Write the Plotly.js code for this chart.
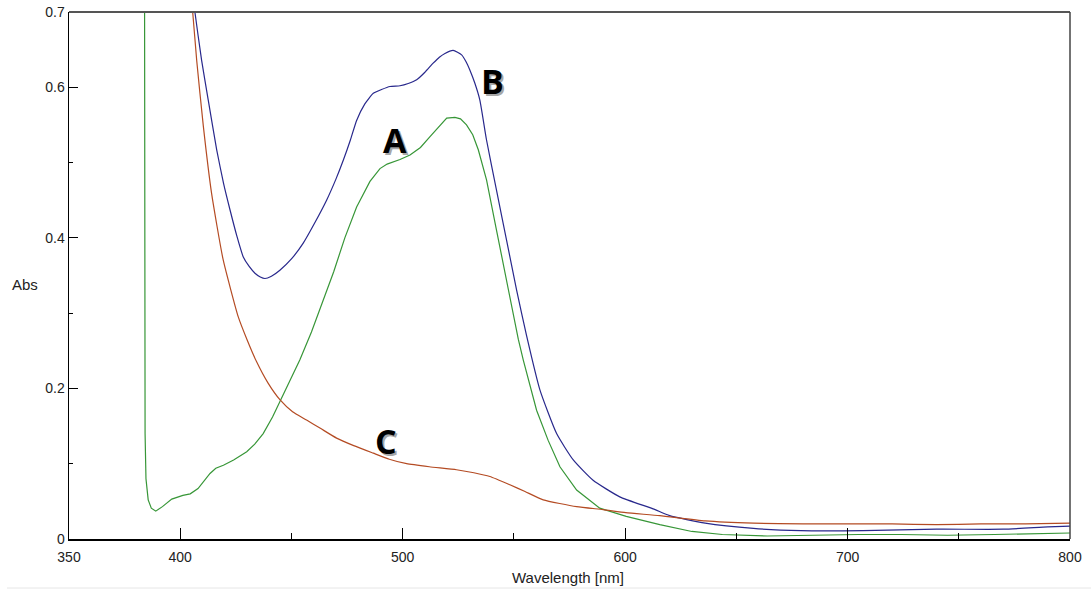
<!DOCTYPE html>
<html>
<head>
<meta charset="utf-8">
<script src="https://cdn.plot.ly/plotly-3.0.1.min.js"></script>
<style>html,body{margin:0;padding:0;background:#fff;}#chart{width:1091px;height:590px;}</style>
</head>
<body>
<div id="chart"></div>
<script>
// Wavelength (nm) and absorbance values
const wlA = [383.9, 384.2, 384.6, 385.6, 387, 389, 392, 396.2, 401.2, 404.5, 408, 411, 413.4, 416, 419.4, 424, 429.9, 433.5, 437.3, 441.5, 445.6, 449.5, 453.8, 459, 464.3, 469, 474, 479.3, 485.3, 489.8, 493, 498.8, 503.3, 508, 512.2, 516, 519.8, 523.5, 526, 528.7, 531.5, 534, 537.7, 542.2, 546.7, 549.5, 552, 554.2, 557, 560.2, 565.4, 570.7, 578.2, 588.6, 600.5, 615.6, 630, 643.7, 663.9, 680, 705, 724, 745, 766, 785, 800];
const absA = [0.9, 0.14, 0.08, 0.052, 0.041, 0.037, 0.043, 0.053, 0.058, 0.060, 0.067, 0.078, 0.087, 0.094, 0.098, 0.105, 0.116, 0.126, 0.140, 0.162, 0.187, 0.212, 0.238, 0.275, 0.317, 0.355, 0.400, 0.441, 0.475, 0.492, 0.498, 0.504, 0.510, 0.520, 0.534, 0.547, 0.559, 0.560, 0.558, 0.550, 0.537, 0.517, 0.477, 0.410, 0.344, 0.300, 0.265, 0.238, 0.205, 0.171, 0.131, 0.096, 0.065, 0.041, 0.030, 0.019, 0.010, 0.006, 0.004, 0.005, 0.006, 0.006, 0.005, 0.006, 0.007, 0.008];

const wlB = [404, 406.6, 409.6, 412.6, 416.4, 419.5, 422.4, 425.5, 428.3, 431, 433.6, 436, 438.1, 441, 444.8, 450, 455.3, 460.5, 465.8, 470, 473.3, 476.5, 479.3, 483, 486.8, 490.5, 494.3, 498.8, 502.5, 506.3, 510, 513.7, 516.5, 519, 522.7, 526.5, 528.5, 530.2, 532.5, 534.7, 537.7, 542.2, 546.7, 551.2, 555.7, 561.7, 569.2, 576.7, 585.6, 597.6, 612.6, 620, 636, 657.7, 679, 707, 740, 770, 790, 800];
const absB = [0.76, 0.70, 0.636, 0.583, 0.517, 0.472, 0.437, 0.402, 0.375, 0.362, 0.353, 0.348, 0.346, 0.349, 0.357, 0.372, 0.393, 0.420, 0.450, 0.478, 0.503, 0.530, 0.556, 0.578, 0.592, 0.597, 0.601, 0.602, 0.605, 0.610, 0.620, 0.632, 0.640, 0.645, 0.649, 0.643, 0.634, 0.623, 0.605, 0.583, 0.530, 0.463, 0.397, 0.331, 0.270, 0.198, 0.140, 0.105, 0.078, 0.056, 0.040, 0.031, 0.021, 0.014, 0.011, 0.011, 0.013, 0.013, 0.016, 0.017];

const wlC = [403.5, 405.6, 407.4, 410.4, 414.1, 419.3, 426.1, 430, 434.4, 439.5, 444.8, 450.5, 456.8, 463, 470.3, 478, 486.8, 494, 501.8, 512, 524.2, 532, 539.2, 548.2, 555, 563.2, 578.2, 590.1, 600.3, 615.6, 636, 657.7, 680, 720, 740, 760, 780, 800];
const absC = [0.76, 0.70, 0.636, 0.548, 0.459, 0.371, 0.295, 0.265, 0.235, 0.207, 0.185, 0.169, 0.158, 0.147, 0.134, 0.124, 0.114, 0.106, 0.100, 0.096, 0.092, 0.088, 0.083, 0.072, 0.063, 0.052, 0.043, 0.039, 0.035, 0.031, 0.024, 0.021, 0.020, 0.020, 0.019, 0.020, 0.020, 0.021];

const xTickVals = [350, 400, 500, 600, 700, 800];
const xTickText = ['350', '400', '500', '600', '700', '800'];
const yTickVals = [0, 0.2, 0.4, 0.6, 0.7];
const yTickText = ['0', '0.2', '0.4', '0.6', '0.7'];

const labels = [
  {text: 'A', x: 496.5, y: 0.530},
  {text: 'B', x: 540.6, y: 0.608},
  {text: 'C', x: 492.5, y: 0.130}
];

const traces = [
  {x: wlA, y: absA, mode: 'lines', line: {color: 'rgb(55,150,55)', width: 1.2}, hoverinfo: 'skip'},
  {x: wlB, y: absB, mode: 'lines', line: {color: 'rgb(40,40,140)', width: 1.2, shape: 'spline', smoothing: 0.5}, hoverinfo: 'skip'},
  {x: wlC, y: absC, mode: 'lines', line: {color: 'rgb(180,75,35)', width: 1.2, shape: 'spline', smoothing: 0.5}, hoverinfo: 'skip'}
];

const letterFont = {family: 'Open Sans, Arial, sans-serif', size: 34, color: '#000', weight: 700};
const annotations = [];
labels.forEach(l => {
  annotations.push({x: l.x, y: l.y, xref: 'x', yref: 'y', text: '<b>' + l.text + '</b>', showarrow: false,
    xshift: 2, yshift: -2, font: Object.assign({}, letterFont, {color: 'rgba(90,90,90,0.55)'})});
  annotations.push({x: l.x, y: l.y, xref: 'x', yref: 'y', text: '<b>' + l.text + '</b>', showarrow: false,
    font: letterFont});
});
annotations.push({x: 0.4985, y: -0.074, xref: 'paper', yref: 'paper', xanchor: 'center', yanchor: 'middle',
  text: 'Wavelength [nm]', showarrow: false,
  font: {family: 'Liberation Sans, Arial, sans-serif', size: 15, color: '#222'}});
annotations.push({x: -0.044, y: 0.482, xref: 'paper', yref: 'paper', xanchor: 'center', yanchor: 'middle',
  text: 'Abs', showarrow: false,
  font: {family: 'Liberation Sans, Arial, sans-serif', size: 15, color: '#222'}});

const layout = {
  width: 1091, height: 590,
  margin: {l: 69, r: 21, t: 12, b: 51},
  paper_bgcolor: '#fff', plot_bgcolor: '#fff',
  showlegend: false,
  font: {family: 'Liberation Sans, Arial, sans-serif', size: 14, color: '#222'},
  xaxis: {
    range: [350, 800], showgrid: false, zeroline: false,
    showline: true, linecolor: '#000', linewidth: 1.5,
    tickmode: 'array', tickvals: xTickVals, ticktext: xTickText,
    ticks: 'inside', ticklen: 11, tickwidth: 1, tickcolor: '#000',
    ticklabelstandoff: 5,
    minor: {tickmode: 'array', tickvals: [450, 550, 650, 750], ticks: 'inside', ticklen: 6, tickwidth: 1, tickcolor: '#000'},
    tickfont: {size: 14, color: '#222'}
  },
  yaxis: {
    range: [0, 0.7], showgrid: false, zeroline: false,
    showline: true, linecolor: '#000', linewidth: 1.5,
    tickmode: 'array', tickvals: yTickVals, ticktext: yTickText,
    ticks: 'inside', ticklen: 9, tickwidth: 1, tickcolor: '#000',
    minor: {tickmode: 'array', tickvals: [0.1, 0.3, 0.5], ticks: 'inside', ticklen: 4, tickwidth: 1, tickcolor: '#000'},
    tickfont: {size: 14, color: '#222'}
  },
  shapes: [
    {type: 'line', xref: 'paper', yref: 'paper', x0: 0, x1: 1, y0: 1, y1: 1, line: {color: '#555', width: 2}},
    {type: 'line', xref: 'paper', yref: 'paper', x0: 1, x1: 1, y0: 0, y1: 1, line: {color: '#444', width: 1.5}},
    {type: 'line', xref: 'paper', yref: 'paper', x0: -0.062, x1: 1.021, y0: -0.093, y1: -0.093, line: {color: '#e6e6e6', width: 1}}
  ],
  annotations: annotations
};

Plotly.newPlot('chart', traces, layout, {displayModeBar: false, staticPlot: true});
</script>
</body>
</html>
